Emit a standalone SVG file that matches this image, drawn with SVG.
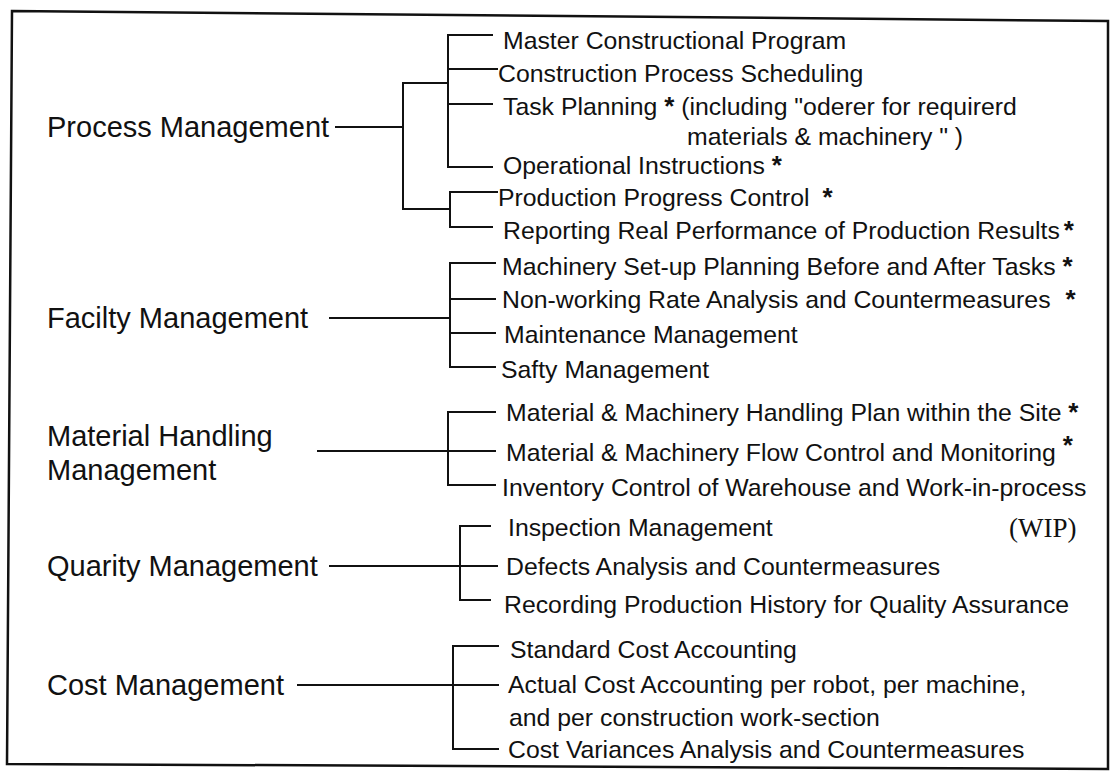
<svg xmlns="http://www.w3.org/2000/svg" width="1111" height="772" viewBox="0 0 1111 772">
<style>
.main{font-family:"Liberation Sans",Arial,Helvetica,sans-serif;font-size:29px;fill:#111}
.sub{font-family:"Liberation Sans",Arial,Helvetica,sans-serif;font-size:24.8px;fill:#111}
.star{font-weight:bold;font-size:26px}
.wip{font-family:"Liberation Serif","Times New Roman",serif;font-size:27px;fill:#111}
.ln{stroke:#111;stroke-width:2;fill:none;stroke-linecap:square}
.frame{stroke:#111;stroke-width:2.5;fill:none}
</style>
<rect width="1111" height="772" fill="#fff"/>
<polygon class="frame" points="12,11 1108,21 1108,769 7,764"/>
<g id="connectors">
<path class="ln" d="M336,127 H403 M403,83 V209 M403,83 H448 M403,209 H450 M448,35 V167 M448,35 H492 M448,69 H497 M448,104 H492 M448,167 H492 M450,192 V227 M450,192 H497 M450,227 H492"/>
<path class="ln" d="M330,318 H450 M450,263 V367 M450,263 H495 M450,299 H495 M450,333 H495 M450,367 H495"/>
<path class="ln" d="M318,451 H495 M448,412 V485 M448,412 H495 M448,485 H495"/>
<path class="ln" d="M330,566 H497 M460,526 V600 M460,526 H490 M460,600 H490"/>
<path class="ln" d="M298,685 H498 M453,646 V749 M453,646 H498 M453,749 H498"/>
</g>
<g id="process-management"><text class="main" x="47" y="137">Process Management</text></g>
<g id="facility-management"><text class="main" x="47" y="328">Facilty Management</text></g>
<g id="material-handling-management"><text class="main" x="47" y="446">Material Handling</text><text class="main" x="47" y="480">Management</text></g>
<g id="quality-management"><text class="main" x="47" y="576">Quarity Management</text></g>
<g id="cost-management"><text class="main" x="47" y="695">Cost Management</text></g>

<g id="master-program"><text class="sub" x="503" y="49">Master Constructional Program</text></g>
<g id="process-scheduling"><text class="sub" x="498" y="82">Construction Process Scheduling</text></g>
<g id="task-planning"><text class="sub" x="503" y="115">Task Planning <tspan class="star">*</tspan> (including "oderer for requirerd</text><text class="sub" x="687" y="145">materials &amp; machinery " )</text></g>
<g id="operational-instructions"><text class="sub" x="503" y="174">Operational Instructions <tspan class="star">*</tspan></text></g>
<g id="progress-control"><text class="sub" x="498" y="206">Production Progress Control <tspan class="star" dx="6">*</tspan></text></g>
<g id="reporting-results"><text class="sub" x="503" y="239">Reporting Real Performance of Production Results<tspan class="star" dx="4">*</tspan></text></g>

<g id="setup-planning"><text class="sub" x="502" y="275">Machinery Set-up Planning Before and After Tasks <tspan class="star">*</tspan></text></g>
<g id="nonworking-rate"><text class="sub" x="502" y="308">Non-working Rate Analysis and Countermeasures <tspan class="star" dx="8">*</tspan></text></g>
<g id="maintenance"><text class="sub" x="504" y="343">Maintenance Management</text></g>
<g id="safety"><text class="sub" x="501" y="378">Safty Management</text></g>

<g id="handling-plan"><text class="sub" x="506" y="421">Material &amp; Machinery Handling Plan within the Site <tspan class="star">*</tspan></text></g>
<g id="flow-control"><text class="sub" x="506" y="461">Material &amp; Machinery Flow Control and Monitoring <tspan class="star" dy="-7">*</tspan></text></g>
<g id="inventory-control"><text class="sub" x="502" y="496">Inventory Control of Warehouse and Work-in-process</text><text class="wip" x="1009" y="537">(WIP)</text></g>

<g id="inspection"><text class="sub" x="508" y="536">Inspection Management</text></g>
<g id="defects"><text class="sub" x="506" y="575">Defects Analysis and Countermeasures</text></g>
<g id="history"><text class="sub" x="504" y="613">Recording Production History for Quality Assurance</text></g>

<g id="standard-cost"><text class="sub" x="510" y="658">Standard Cost Accounting</text></g>
<g id="actual-cost"><text class="sub" x="508" y="693">Actual Cost Accounting per robot, per machine,</text><text class="sub" x="509" y="726">and per construction work-section</text></g>
<g id="cost-variances"><text class="sub" x="508" y="758">Cost Variances Analysis and Countermeasures</text></g>
</svg>
